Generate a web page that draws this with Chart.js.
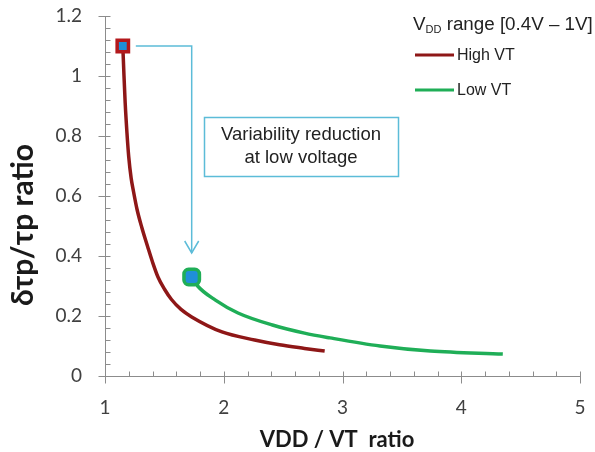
<!DOCTYPE html>
<html>
<head>
<meta charset="utf-8">
<script src="https://cdn.jsdelivr.net/npm/chart.js@4/dist/chart.umd.min.js"></script>
<style>
  html, body { margin: 0; padding: 0; background: #ffffff; }
  #wrap { width: 595px; height: 452px; }
</style>
</head>
<body>
<div id="wrap"><canvas id="c" width="595" height="452"></canvas></div>
<script>
// ---- data ----
const highVT_x = [1.15, 1.16, 1.17, 1.185, 1.20, 1.22, 1.24, 1.27, 1.31, 1.36, 1.40, 1.446, 1.50, 1.56, 1.64, 1.73, 1.985, 2.26, 2.47, 2.68, 2.85];
const highVT_y = [1.10, 1.00, 0.91, 0.81, 0.73, 0.66, 0.615, 0.555, 0.495, 0.43, 0.38, 0.33, 0.29, 0.255, 0.222, 0.197, 0.147, 0.12, 0.104, 0.092, 0.083];
const lowVT_x = [1.73, 1.78, 1.93, 2.12, 2.41, 2.68, 2.895, 3.316, 3.74, 4.35];
const lowVT_y = [0.33, 0.30, 0.253, 0.21, 0.17, 0.143, 0.127, 0.10, 0.083, 0.073];
const seriesNames = ["High VT", "Low VT"];
const legendTitleMain = "V";
const legendTitleSub = "DD";
const legendTitleRest = " range [0.4V \u2013 1V]";
const xTitle = "VDD / VT  ratio";
const yTitle = "\u03B4\u03C4p/\u03C4p ratio";
const noteLines = ["Variability reduction", "at low voltage"];

// ---- styles ----
const RED = "#8e1717";
const GREEN = "#1fae57";
const BLUE = "#1f8fd8";
const CYAN = "#5cbcd8";
const AXIS = "#8c8c8c";
const TXT = "#404040";
const noteBox = { x0: 1.834, x1: 3.467, y0: 0.667, y1: 0.863 };

const toPts = (xs, ys) => xs.map((x, i) => ({ x: x, y: ys[i] }));

const overlay = {
  id: "overlay",
  afterDraw(chart) {
    const ctx = chart.ctx;
    const xs = chart.scales.x, ys = chart.scales.y;
    const ca = chart.chartArea;
    ctx.save();
    // tick marks
    ctx.strokeStyle = AXIS;
    ctx.lineWidth = 1;
    ys.ticks.forEach(t => {
      const v = t.value;
      const major = Math.abs(v / 0.2 - Math.round(v / 0.2)) < 1e-6;
      const py = Math.round(ys.getPixelForValue(v)) + 0.5;
      const ax = Math.round(ca.left) + 0.5;
      ctx.beginPath();
      ctx.moveTo(major ? ax - 7 : ax, py);
      ctx.lineTo(ax + 5, py);
      ctx.stroke();
    });
    xs.ticks.forEach(t => {
      const v = t.value;
      const major = Math.abs(v - Math.round(v)) < 1e-6;
      const px = Math.round(xs.getPixelForValue(v)) + 0.5;
      const ay = Math.round(ca.bottom) + 0.5;
      ctx.beginPath();
      ctx.moveTo(px, ay - 5);
      ctx.lineTo(px, major ? ay + 7 : ay);
      ctx.stroke();
    });

    // axis titles
    ctx.fillStyle = "#1a1a1a";
    ctx.font = "bold 22px Lato, 'DejaVu Sans', sans-serif";
    ctx.textAlign = "center";
    ctx.textBaseline = "middle";
    ctx.fillText(xTitle, 337, 440);
    ctx.save();
    ctx.translate(23, 225);
    ctx.rotate(-Math.PI / 2);
    ctx.font = "bold 30px Lato, 'DejaVu Sans', sans-serif";
    ctx.fillText(yTitle, 0, 0);
    ctx.restore();

    // annotation: arrow from High VT start to Low VT start
    const p0 = chart.getDatasetMeta(0).data[0];
    const p1 = chart.getDatasetMeta(1).data[0];
    ctx.strokeStyle = CYAN;
    ctx.lineWidth = 1.5;
    ctx.beginPath();
    ctx.moveTo(p0.x + 13, p0.y);
    ctx.lineTo(p1.x, p0.y);
    ctx.lineTo(p1.x, p1.y - 24);
    ctx.stroke();
    ctx.beginPath();
    ctx.moveTo(p1.x - 7, p1.y - 36);
    ctx.lineTo(p1.x, p1.y - 24);
    ctx.lineTo(p1.x + 7, p1.y - 36);
    ctx.stroke();

    // note box
    const bx0 = xs.getPixelForValue(noteBox.x0), bx1 = xs.getPixelForValue(noteBox.x1);
    const by0 = ys.getPixelForValue(noteBox.y1), by1 = ys.getPixelForValue(noteBox.y0);
    ctx.fillStyle = "#ffffff";
    ctx.fillRect(bx0, by0, bx1 - bx0, by1 - by0);
    ctx.strokeRect(Math.round(bx0) + 0.5, Math.round(by0) + 0.5, Math.round(bx1 - bx0), Math.round(by1 - by0));
    ctx.fillStyle = "#222222";
    ctx.font = "18.5px 'Liberation Sans', Arial, sans-serif";
    ctx.textAlign = "center";
    ctx.textBaseline = "middle";
    const cx = (bx0 + bx1) / 2;
    ctx.fillText(noteLines[0], cx, by0 + 18);
    ctx.fillText(noteLines[1], cx, by0 + 41);

    // legend
    ctx.textAlign = "left";
    ctx.textBaseline = "alphabetic";
    ctx.fillStyle = "#222222";
    let lx = 413;
    ctx.font = "18.8px 'Liberation Sans', Arial, sans-serif";
    ctx.fillText(legendTitleMain, lx, 30);
    lx += ctx.measureText(legendTitleMain).width;
    ctx.font = "11px 'Liberation Sans', Arial, sans-serif";
    ctx.fillText(legendTitleSub, lx, 33);
    lx += ctx.measureText(legendTitleSub).width;
    ctx.font = "18.8px 'Liberation Sans', Arial, sans-serif";
    ctx.fillText(legendTitleRest, lx, 30);

    chart.data.datasets.forEach((ds, i) => {
      const ly = 55 + i * 35;
      ctx.strokeStyle = ds.borderColor;
      ctx.lineWidth = 3;
      ctx.beginPath();
      ctx.moveTo(415, ly);
      ctx.lineTo(454, ly);
      ctx.stroke();
      ctx.fillStyle = "#222222";
      ctx.font = "16px 'Liberation Sans', Arial, sans-serif";
      ctx.textBaseline = "middle";
      ctx.fillText(ds.label, 457, ly + 1);
    });
    ctx.restore();
  }
};

new Chart(document.getElementById("c"), {
  type: "scatter",
  data: {
    datasets: [
      {
        label: seriesNames[0],
        data: toPts(highVT_x, highVT_y),
        showLine: true,
        borderColor: RED,
        borderWidth: 3.5,
        cubicInterpolationMode: "monotone",
        pointStyle: "rect",
        pointRadius: ctx => ctx.dataIndex === 0 ? 8 : 0,
        pointHoverRadius: ctx => ctx.dataIndex === 0 ? 8 : 0,
        pointBackgroundColor: BLUE,
        pointBorderColor: "#b3191c",
        pointBorderWidth: 3.5
      },
      {
        label: seriesNames[1],
        data: toPts(lowVT_x, lowVT_y),
        showLine: true,
        borderColor: GREEN,
        borderWidth: 3.5,
        cubicInterpolationMode: "monotone",
        pointStyle: "rectRounded",
        pointRadius: ctx => ctx.dataIndex === 0 ? 9 : 0,
        pointHoverRadius: ctx => ctx.dataIndex === 0 ? 9 : 0,
        pointBackgroundColor: BLUE,
        pointBorderColor: GREEN,
        pointBorderWidth: 3.5
      }
    ]
  },
  options: {
    responsive: false,
    devicePixelRatio: 1,
    animation: false,
    events: [],
    layout: { padding: { left: 0, right: 15, top: 16, bottom: 0 } },
    plugins: { legend: { display: false }, tooltip: { enabled: false } },
    scales: {
      x: {
        type: "linear",
        min: 1, max: 5,
        afterFit: s => { s.height = 76; s.paddingLeft = 0; s.paddingRight = 0; },
        border: { display: true, color: AXIS, width: 1 },
        grid: { display: false, drawTicks: false },
        ticks: {
          stepSize: 0.2,
          autoSkip: false,
          maxRotation: 0,
          padding: 20,
          color: TXT,
          font: { family: "Lato, 'DejaVu Sans', sans-serif", size: 19 },
          callback: v => Math.abs(v - Math.round(v)) < 1e-6 ? String(Math.round(v)) : ""
        }
      },
      y: {
        type: "linear",
        min: 0, max: 1.2,
        afterFit: s => { s.width = 105; s.paddingTop = 0; s.paddingBottom = 0; },
        border: { display: true, color: AXIS, width: 1 },
        grid: { display: false, drawTicks: false },
        ticks: {
          stepSize: 0.04,
          maxTicksLimit: 100,
          autoSkip: false,
          padding: 23,
          color: TXT,
          font: { family: "Lato, 'DejaVu Sans', sans-serif", size: 19 },
          callback: v => Math.abs(v / 0.2 - Math.round(v / 0.2)) < 1e-6 ? String(Math.round(v * 10) / 10) : ""
        }
      }
    }
  },
  plugins: [overlay]
});
</script>
</body>
</html>
